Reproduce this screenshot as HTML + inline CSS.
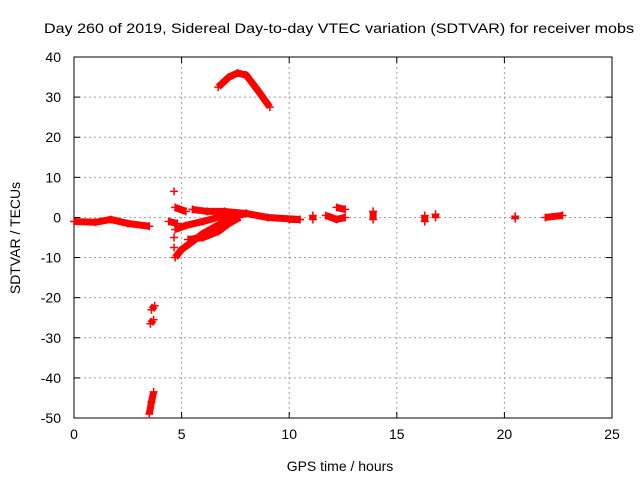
<!DOCTYPE html>
<html><head><meta charset="utf-8"><style>
body{margin:0;background:#fff;}
svg{display:block;font-family:"Liberation Sans",sans-serif;}
</style></head><body>
<svg id="chart" width="640" height="480">
<text x="44" y="33" font-size="14" textLength="590" lengthAdjust="spacingAndGlyphs">Day 260 of 2019, Sidereal Day-to-day VTEC variation (SDTVAR) for receiver mobs</text>
<g id="grid"></g>
<g id="axes"></g>
<g id="marks"></g>
<text x="340" y="471" font-size="14" text-anchor="middle">GPS time / hours</text>
<text x="20" y="238" font-size="14" text-anchor="middle" transform="rotate(-90 20 238)">SDTVAR / TECUs</text>
</svg>
<script>
const xTicks=[0,5,10,15,20,25];
const yTicks=[40,30,20,10,0,-10,-20,-30,-40,-50];
// tracks: times and values
const trackTimes=[
[0,1,1.7,2.5,3.5],
[6.7,7.2,7.6,8.0,8.5,9.1],
[3.55,3.7],[3.6,3.75],[3.5,3.6,3.7],
[4.7,5,5.5,6,6.5,7,7.5],
[5.3,6,6.7,7.2,7.7],
[4.7,5.2,6,7,8],
[4.7,5.2],
[5.5,6.2,7,8,9,10.5],
[4.4,4.8],[10,10.5],[11.1,11.1],[11.7,12.2,12.6],[12.2,12.6],[13.9,13.9],[16.3,16.3],[16.8,16.8],[20.5,20.5],[21.9,22.7],
[4.65],[4.65],[4.65]
];
const trackValues=[
[-1,-1.2,-0.5,-1.5,-2.2],
[32.5,35,36,35.5,32,27.5],
[-26.5,-25.5],[-23,-22],[-49,-46,-43.5],
[-10,-8,-6,-4,-2.5,-1,0.5],
[-5.5,-5,-3.5,-1.5,0],
[-3,-2,-1,0.5,1],
[2.5,1.5],
[2,1.5,1.5,1,0,-0.5],
[-1,-1.5],[-0.5,-0.5],[-0.5,0.5],[0.5,-0.5,0],[2.5,2],[-0.5,1.5],[-1,0.5],[0,0.8],[-0.3,0.3],[0,0.5],
[6.5],[-5],[-7.5]
];
const X0=74,X1=612,Y0=57,Y1=418;
const sx=v=>X0+(v-0)/25*(X1-X0);
const sy=v=>Y0+(40-v)/90*(Y1-Y0);
const NS="http://www.w3.org/2000/svg";
function mk(t,a,p){const e=document.createElementNS(NS,t);for(const k in a)e.setAttribute(k,a[k]);p.appendChild(e);return e;}
const grid=document.getElementById('grid'),axes=document.getElementById('axes'),marks=document.getElementById('marks');
mk('rect',{x:X0,y:Y0,width:X1-X0,height:Y1-Y0,fill:'none',stroke:'#000'},axes);
xTicks.forEach(t=>{const x=sx(t);
 if(t>0&&t<25){const l=mk('line',{x1:x,x2:x,y1:Y0,y2:Y1,stroke:'#a0a0a0','stroke-dasharray':'2,3'},grid);
 }
 mk('line',{x1:x,x2:x,y1:Y1,y2:Y1-6,stroke:'#000'},axes);mk('line',{x1:x,x2:x,y1:Y0,y2:Y0+6,stroke:'#000'},axes);
 const tx=mk('text',{x:x,y:Y1+21,'font-size':14,'text-anchor':'middle'},axes);tx.textContent=t;
 });
yTicks.forEach(t=>{const y=sy(t);
 if(t<40&&t>-50){const l=mk('line',{x1:X0,x2:X1,y1:y,y2:y,stroke:'#a0a0a0','stroke-dasharray':'2,3'},grid);
 }
 mk('line',{x1:X0,x2:X0+6,y1:y,y2:y,stroke:'#000'},axes);mk('line',{x1:X1,x2:X1-6,y1:y,y2:y,stroke:'#000'},axes);
 const tx=mk('text',{x:X0-13,y:y+5,'font-size':14,'text-anchor':'end'},axes);tx.textContent=t;
 });
trackTimes.forEach((ts,i)=>{const vs=trackValues[i];
 const pts=ts.map((t,j)=>sx(t)+','+sy(vs[j])).join(' ');
 if(ts.length>1){const p=mk('polyline',{points:pts,fill:'none',stroke:'#f00','stroke-width':7,'stroke-linejoin':'round'},marks);
 }
 ts.forEach((t,j)=>{const x=sx(t),y=sy(vs[j]);
 const m=mk('path',{d:`M${x-4},${y}H${x+4}M${x},${y-4}V${y+4}`,stroke:'#f00','stroke-width':1.5},marks);
 });
});
</script>
</body></html>
